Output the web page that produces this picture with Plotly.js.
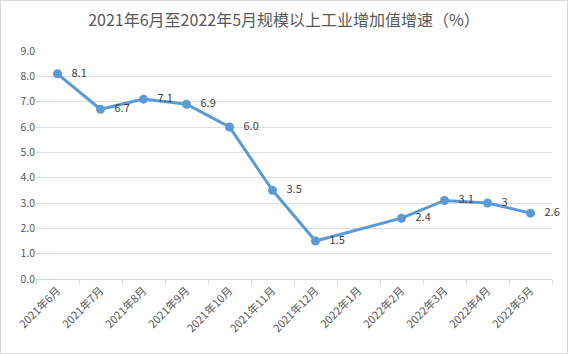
<!DOCTYPE html>
<html><head><meta charset="utf-8">
<script src="https://cdn.plot.ly/plotly-3.0.1.min.js"></script>
<style>html,body{margin:0;padding:0;background:#fff;}#chart{width:566px;height:352px;border:1px solid #d9d9d9;}</style>
</head><body><div id="chart"></div>
<script>
const categories = ['2021年6月','2021年7月','2021年8月','2021年9月','2021年10月','2021年11月','2021年12月','2022年1月','2022年2月','2022年3月','2022年4月','2022年5月'];
const values = [8.1, 6.7, 7.1, 6.9, 6.0, 3.5, 1.5, null, 2.4, 3.1, 3, 2.6];
const labels = ['8.1','6.7','7.1','6.9','6.0','3.5','1.5','','2.4','3.1','3','2.6'];
const font = '"Noto Sans CJK SC", "Noto Sans", sans-serif';
Plotly.newPlot('chart', [{
  x: categories, y: values, type: 'scatter', mode: 'lines+markers+text',
  connectgaps: true,
  line: {color: '#5B9BD5', width: 3},
  marker: {color: '#5B9BD5', size: 9},
  text: labels, texttemplate: '   %{text}', textposition: 'middle right',
  textfont: {family: font, size: 11, color: '#404040'},
  cliponaxis: false, hoverinfo: 'x+y'
}], {
  width: 566, height: 352,
  margin: {l: 35, r: 15, t: 50, b: 74},
  paper_bgcolor: '#fff', plot_bgcolor: '#fff',
  showlegend: false,
  title: {text: '2021年6月至2022年5月规模以上工业增加值增速（%）', x: 0.5, xanchor: 'center', y: 0.945, yanchor: 'middle',
    font: {family: font, size: 16, color: '#595959'}},
  xaxis: {type: 'category', range: [-0.5, categories.length - 0.5], autorange: false, tickangle: -45, tickson: 'boundaries', ticks: 'outside', ticklen: 5, tickcolor: '#d9d9d9',
    showline: true, linecolor: '#d9d9d9', showgrid: false, zeroline: false, automargin: false,
    tickfont: {family: font, size: 11, color: '#595959'}},
  yaxis: {range: [0, 9], dtick: 1, tickformat: '.1f', showgrid: true, gridcolor: '#dedede', zeroline: false, automargin: false,
    showline: false, ticks: '', tickfont: {family: font, size: 10.5, color: '#595959'}}
}, {displayModeBar: false, staticPlot: true});
</script></body></html>
